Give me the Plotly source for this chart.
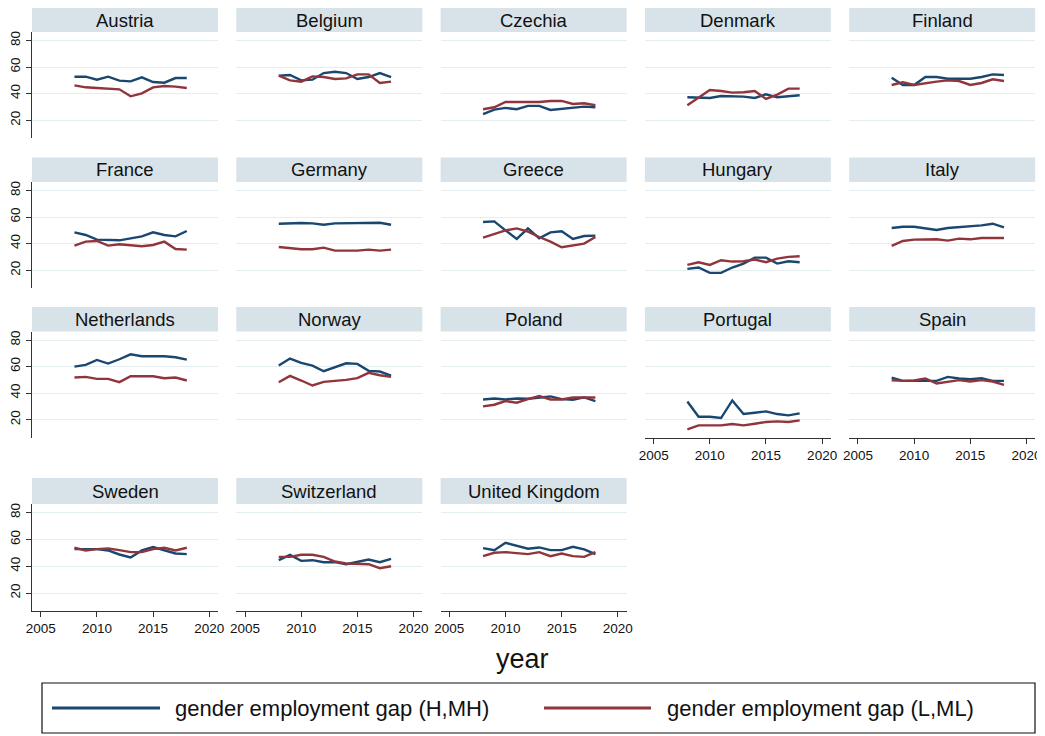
import plotly.graph_objects as go

# ---------------- data ----------------
YEARS = [2008, 2009, 2010, 2011, 2012, 2013, 2014, 2015, 2016, 2017, 2018]
COUNTRIES = ["Austria", "Belgium", "Czechia", "Denmark", "Finland",
             "France", "Germany", "Greece", "Hungary", "Italy",
             "Netherlands", "Norway", "Poland", "Portugal", "Spain",
             "Sweden", "Switzerland", "United Kingdom"]
X_TICKS = [2005, 2010, 2015, 2020]
Y_TICKS = [20, 40, 60, 80]
SERIES_NAMES = ["gender employment gap (H,MH)", "gender employment gap (L,ML)"]

AUSTRIA_HMH = [52.75, 52.75, 50.5, 52.75, 49.75, 49.25, 52.25, 48.75, 48.25, 51.75, 51.75]
AUSTRIA_LML = [46.25, 44.75, 44.25, 43.75, 43.25, 38.0, 40.25, 44.75, 45.75, 45.25, 44.25]
BELGIUM_HMH = [53.5, 54.0, 50.0, 50.5, 55.5, 56.5, 55.5, 51.0, 52.5, 55.5, 52.5]
BELGIUM_LML = [53.5, 50.0, 49.0, 53.0, 52.5, 51.0, 51.5, 54.5, 54.5, 48.0, 49.0]
CZECHIA_HMH = [24.5, 28.0, 29.25, 28.25, 30.75, 30.75, 27.75, 28.75, 29.75, 30.25, 29.75]
CZECHIA_LML = [28.25, 29.75, 33.75, 33.75, 33.25, 33.75, 34.5, 34.5, 32.25, 32.75, 31.25]
DENMARK_HMH = [37.25, 37.25, 36.75, 38.25, 38.25, 37.75, 36.75, 39.5, 37.25, 38.0, 38.75]
DENMARK_LML = [31.25, 36.75, 42.75, 42.0, 40.75, 41.0, 42.0, 36.0, 39.25, 43.75, 43.75]
FINLAND_HMH = [52.0, 46.5, 46.5, 52.5, 52.5, 51.25, 51.25, 51.25, 52.5, 54.5, 54.0]
FINLAND_LML = [46.5, 48.5, 46.5, 48.0, 49.0, 50.0, 49.5, 46.5, 48.0, 50.75, 49.5]
FRANCE_HMH = [48.5, 46.5, 43.0, 43.0, 42.5, 44.0, 45.5, 48.5, 46.5, 45.5, 49.5]
FRANCE_LML = [38.5, 41.5, 42.0, 38.5, 39.5, 38.5, 38.0, 39.0, 41.5, 36.0, 35.5]
GERMANY_HMH = [55.0, 55.5, 55.5, 55.25, 54.25, 55.25, 55.25, 55.75, 55.25, 55.75, 54.25]
GERMANY_LML = [37.5, 36.5, 35.75, 35.75, 37.0, 34.75, 34.75, 34.75, 35.5, 34.75, 35.5]
GREECE_HMH = [56.25, 56.75, 50.0, 43.5, 51.5, 44.0, 48.5, 49.25, 43.5, 45.75, 46.0]
GREECE_LML = [44.5, 47.0, 50.0, 51.5, 49.0, 45.0, 41.5, 37.25, 38.75, 40.0, 45.0]
HUNGARY_HMH = [21.0, 22.0, 18.0, 18.0, 22.0, 25.0, 29.5, 29.5, 25.0, 26.75, 26.0]
HUNGARY_LML = [24.0, 26.0, 24.0, 27.5, 26.5, 26.75, 28.0, 26.0, 28.75, 30.0, 30.5]
ITALY_HMH = [51.75, 52.75, 52.75, 51.25, 50.25, 51.75, 52.25, 52.75, 53.75, 55.0, 52.25]
ITALY_LML = [38.25, 42.0, 43.0, 43.25, 43.25, 42.25, 43.75, 43.25, 44.25, 44.25, 44.25]
NETHERLANDS_HMH = [60.0, 61.25, 65.0, 62.25, 65.5, 69.25, 67.75, 67.75, 67.75, 67.0, 65.25]
NETHERLANDS_LML = [51.75, 52.25, 50.75, 50.75, 48.25, 52.75, 52.75, 52.75, 51.25, 51.75, 49.5]
NORWAY_HMH = [60.75, 66.0, 62.75, 60.75, 56.5, 59.5, 62.5, 62.0, 56.75, 56.25, 53.25]
NORWAY_LML = [48.25, 53.0, 49.5, 45.75, 48.5, 49.0, 50.0, 51.25, 55.25, 53.5, 52.25]
POLAND_HMH = [35.25, 36.0, 35.25, 36.0, 35.75, 36.75, 37.5, 35.5, 35.0, 36.75, 34.0]
POLAND_LML = [30.0, 31.25, 34.0, 32.75, 35.5, 37.75, 35.25, 35.25, 36.75, 36.75, 36.75]
PORTUGAL_HMH = [33.75, 22.25, 22.25, 21.25, 34.5, 24.25, 25.25, 26.25, 24.25, 23.25, 24.75]
PORTUGAL_LML = [12.75, 15.75, 15.75, 15.75, 16.75, 15.75, 17.0, 18.25, 18.75, 18.25, 19.5]
SPAIN_HMH = [51.75, 49.25, 49.25, 49.25, 49.25, 52.25, 51.0, 50.5, 51.25, 49.25, 49.25]
SPAIN_LML = [49.75, 49.25, 49.5, 51.0, 47.25, 48.75, 49.75, 48.75, 49.75, 48.75, 46.25]
SWEDEN_HMH = [52.75, 52.75, 52.75, 51.75, 48.75, 46.5, 51.75, 54.25, 51.75, 49.5, 49.0]
SWEDEN_LML = [53.75, 51.75, 52.75, 53.25, 52.0, 50.5, 50.5, 52.75, 53.75, 51.75, 53.75]
SWITZERLAND_HMH = [44.5, 48.5, 44.0, 44.5, 43.0, 43.0, 41.5, 43.5, 45.0, 43.0, 45.5]
SWITZERLAND_LML = [47.0, 47.0, 48.5, 48.5, 47.0, 43.5, 42.0, 42.0, 41.5, 38.5, 40.0]
UK_HMH = [53.5, 52.0, 57.5, 55.0, 53.0, 54.0, 52.0, 52.0, 54.5, 52.5, 49.0]
UK_LML = [47.5, 50.0, 50.5, 50.0, 49.0, 50.5, 47.5, 49.5, 47.5, 47.0, 50.5]

HMH = [AUSTRIA_HMH, BELGIUM_HMH, CZECHIA_HMH, DENMARK_HMH, FINLAND_HMH,
       FRANCE_HMH, GERMANY_HMH, GREECE_HMH, HUNGARY_HMH, ITALY_HMH,
       NETHERLANDS_HMH, NORWAY_HMH, POLAND_HMH, PORTUGAL_HMH, SPAIN_HMH,
       SWEDEN_HMH, SWITZERLAND_HMH, UK_HMH]
LML = [AUSTRIA_LML, BELGIUM_LML, CZECHIA_LML, DENMARK_LML, FINLAND_LML,
       FRANCE_LML, GERMANY_LML, GREECE_LML, HUNGARY_LML, ITALY_LML,
       NETHERLANDS_LML, NORWAY_LML, POLAND_LML, PORTUGAL_LML, SPAIN_LML,
       SWEDEN_LML, SWITZERLAND_LML, UK_LML]

# ---------------- styling / layout ----------------
PAGE_OFFSET = 8          # default body margin of the html page
W, H = 1045 - PAGE_OFFSET, 736 - PAGE_OFFSET
NAVY = "#1a476f"
MAROON = "#90353b"
HEADER_BG = "#d8e3e9"
GRID = "#e4edf0"
AXIS = "#333333"
FONT = "Liberation Sans, Arial, sans-serif"

COL_X = [32, 236.3, 440.6, 644.9, 849.2]
PANEL_W = 186
ROWS = [(8, 32, 138), (157.5, 182, 288), (307, 331.5, 437.5), (478, 504, 611)]
X_RANGE = [2004.22, 2020.78]
Y_RANGE = [6.6, 86.4]


def px(x):
    return (x - PAGE_OFFSET) / W


def py(y):
    return 1 - (y - PAGE_OFFSET) / H


fig = go.Figure()
layout = {}
shapes = []
annotations = []
n = len(COUNTRIES)

for i, country in enumerate(COUNTRIES):
    r, c = divmod(i, 5)
    k = i + 1
    x0 = COL_X[c]
    x1 = x0 + PANEL_W
    htop, ptop, pbot = ROWS[r]
    is_bottom = i + 5 >= n
    is_left = c == 0
    xname = "xaxis" if k == 1 else f"xaxis{k}"
    yname = "yaxis" if k == 1 else f"yaxis{k}"
    layout[xname] = dict(
        domain=[px(x0), px(x1)], anchor=f"y{k}", range=X_RANGE,
        tickvals=X_TICKS, showticklabels=is_bottom, automargin=False,
        ticks="outside" if is_bottom else "", ticklen=5, tickwidth=1.2, tickcolor=AXIS,
        showline=is_bottom, linecolor=AXIS, linewidth=1.3,
        showgrid=False, zeroline=False,
        tickfont=dict(size=13.5, color="#111", family=FONT),
    )
    layout[yname] = dict(
        domain=[py(pbot), py(ptop)], anchor=f"x{k}", range=Y_RANGE,
        tickvals=Y_TICKS, showticklabels=is_left, tickangle=-90, automargin=False,
        ticks="outside" if is_left else "", ticklen=5, tickwidth=1.2, tickcolor=AXIS,
        showline=is_left, linecolor=AXIS, linewidth=1.3,
        showgrid=True, gridcolor=GRID, gridwidth=1.3, zeroline=False,
        tickfont=dict(size=13.5, color="#111", family=FONT),
    )
    fig.add_trace(go.Scatter(x=YEARS, y=HMH[i], mode="lines", name=SERIES_NAMES[0],
                             line=dict(color=NAVY, width=2.4), showlegend=False,
                             xaxis=f"x{k}", yaxis=f"y{k}"))
    fig.add_trace(go.Scatter(x=YEARS, y=LML[i], mode="lines", name=SERIES_NAMES[1],
                             line=dict(color=MAROON, width=2.4), showlegend=False,
                             xaxis=f"x{k}", yaxis=f"y{k}"))
    shapes.append(dict(type="rect", xref="paper", yref="paper",
                       x0=px(x0), x1=px(x1), y0=py(ptop), y1=py(htop),
                       fillcolor=HEADER_BG, line=dict(width=0), layer="below"))
    annotations.append(dict(text=country, xref="paper", yref="paper",
                            x=px((x0 + x1) / 2), y=py((htop + ptop) / 2),
                            xanchor="center", yanchor="middle", showarrow=False,
                            font=dict(size=18.5, color="#111", family=FONT)))

# x-axis title
annotations.append(dict(text="year", xref="paper", yref="paper",
                        x=px(522), y=py(659), xanchor="center", yanchor="middle",
                        showarrow=False, font=dict(size=27, color="#111", family=FONT)))

# legend box
shapes.append(dict(type="rect", xref="paper", yref="paper",
                   x0=px(42), x1=px(1035), y0=py(733), y1=py(683),
                   line=dict(color="#111", width=1.2), fillcolor="white"))
for (lx0, lx1, tx, color, name) in [(52, 160, 173, NAVY, SERIES_NAMES[0]),
                                    (544, 651, 665, MAROON, SERIES_NAMES[1])]:
    shapes.append(dict(type="line", xref="paper", yref="paper",
                       x0=px(lx0), x1=px(lx1), y0=py(708), y1=py(708),
                       line=dict(color=color, width=3)))
    annotations.append(dict(text=name, xref="paper", yref="paper",
                            x=px(tx), y=py(708), xanchor="left", yanchor="middle",
                            showarrow=False, font=dict(size=22, color="#111", family=FONT)))

fig.update_layout(
    width=W, height=H,
    margin=dict(l=0, r=0, t=0, b=0, pad=0),
    paper_bgcolor="white", plot_bgcolor="white",
    showlegend=False,
    shapes=shapes, annotations=annotations,
    font=dict(family=FONT),
    **layout,
)

fig.write_html("out.html")
